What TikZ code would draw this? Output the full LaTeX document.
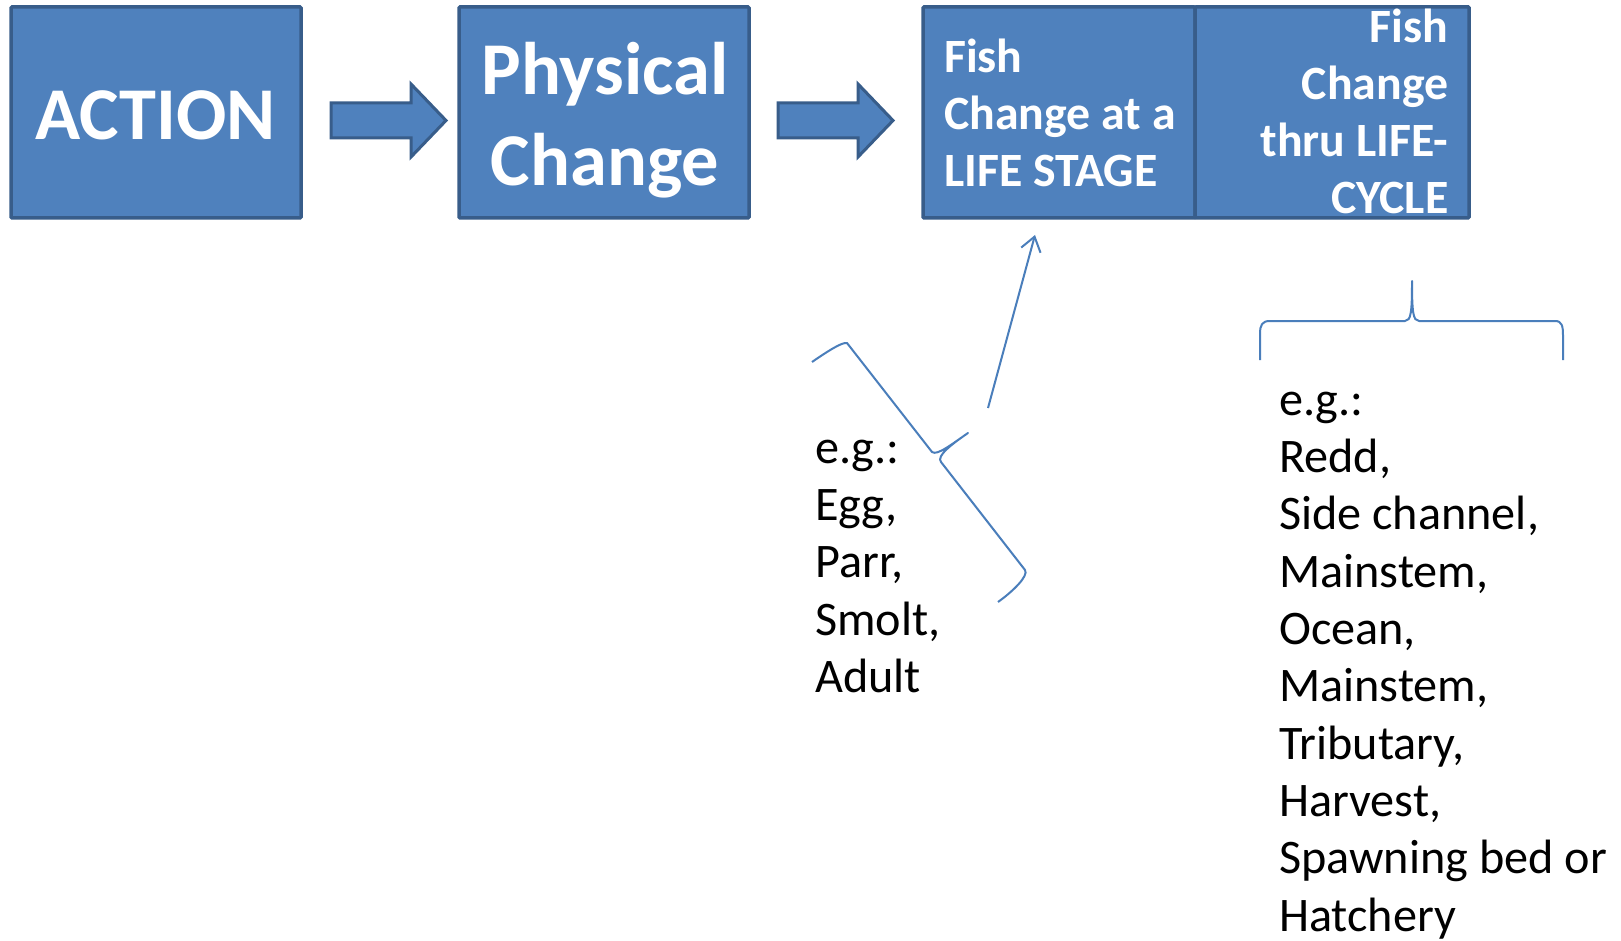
\documentclass[tikz,border=0pt]{standalone}
\usepackage{fontspec}
\setmainfont{Carlito}
\usetikzlibrary{arrows.meta}
\definecolor{boxfill}{HTML}{4F81BD}
\definecolor{boxedge}{HTML}{385D8A}
\definecolor{linkblue}{HTML}{4A7EBB}
\begin{document}
\begin{tikzpicture}[x=1pt,y=-1pt,
  blockbox/.style={draw=boxedge,fill=boxfill,line width=3.5pt,rounded corners=1pt},
  blockarrow/.style={draw=boxedge,fill=boxfill,line width=3pt,line join=miter},
  bigtext/.style={text=white,font=\fontsize{74.5}{91}\bfseries\selectfont,inner sep=0pt,align=center},
  boxtext/.style={text=white,font=\fontsize{47.8}{57}\bfseries\selectfont,inner sep=0pt},
  listtext/.style={text=black,font=\fontsize{48.2}{57.3}\selectfont,inner sep=0pt,align=left,anchor=base west},
  brace/.style={draw=linkblue,line width=2pt,line join=round},
  pointer/.style={draw=linkblue,line width=2pt,-{Straight Barb[length=14pt,width=20pt,line width=2pt]}}]
\useasboundingbox (0,0) rectangle (1621,941);
\fill[white] (0,0) rectangle (1621,941);

% the four boxes of the chain
\draw[blockbox] (11,7) rectangle (301,218);
\draw[blockbox] (459,7) rectangle (749,218);
\draw[blockbox] (923,7) rectangle (1195,218);
\draw[blockbox] (1195,7) rectangle (1469,218);

% multi-line nodes are placed by the baseline of their last line
\node[bigtext,anchor=base] (action) at (155.5,139.6) {ACTION};
\node[bigtext,anchor=base] (phys) at (605,185.5) {Physical\\Change};
\node[boxtext,anchor=base west,align=left] (stage) at (944,186.5)
  {Fish\\Change at a\\LIFE STAGE};
\node[boxtext,anchor=base east,align=right] (cycle) at (1448.5,213.3)
  {Fish\\Change\\thru LIFE-\\CYCLE};

% block arrows between the boxes
\draw[blockarrow] (331,103) -- (411,103) -- (411,84) -- (446,120.5)
  -- (411,157) -- (411,138) -- (331,138) -- cycle;
\draw[blockarrow] (778,103) -- (858,103) -- (858,84) -- (893,120.5)
  -- (858,157) -- (858,138) -- (778,138) -- cycle;

% examples of life stages
\node[listtext] (stageeg) at (815,692.5) {e.g.:\\Egg,\\Parr,\\Smolt,\\Adult};
\draw[brace] (812,362) .. controls (828,351) and (842,342) .. (847,343)
  -- (932,452) .. controls (937,456) and (952,444) .. (968,433)
  .. controls (952,444) and (936,456) .. (941,462)
  -- (1025,570) .. controls (1029,576) and (1012,592) .. (998,602);
\coordinate (stagetail) at (988,408);
\coordinate (stagehead) at (1035,235);
\draw[pointer] (stagetail) -- (stagehead);

% examples of life-cycle locations
\node[listtext] (cycleeg) at (1279,931)
  {e.g.:\\Redd,\\Side channel,\\Mainstem,\\Ocean,\\Mainstem,\\Tributary,\\Harvest,\\Spawning bed or\\Hatchery};
\draw[brace] (1260,360) -- (1260,334) .. controls (1260,325) and (1262,321) .. (1270,321)
  -- (1405,321) .. controls (1411,321) and (1412,312) .. (1412,281)
  .. controls (1412,312) and (1413,321) .. (1419,321)
  -- (1555,321) .. controls (1562,321) and (1563,326) .. (1563,336) -- (1563,360);
\end{tikzpicture}
\end{document}
